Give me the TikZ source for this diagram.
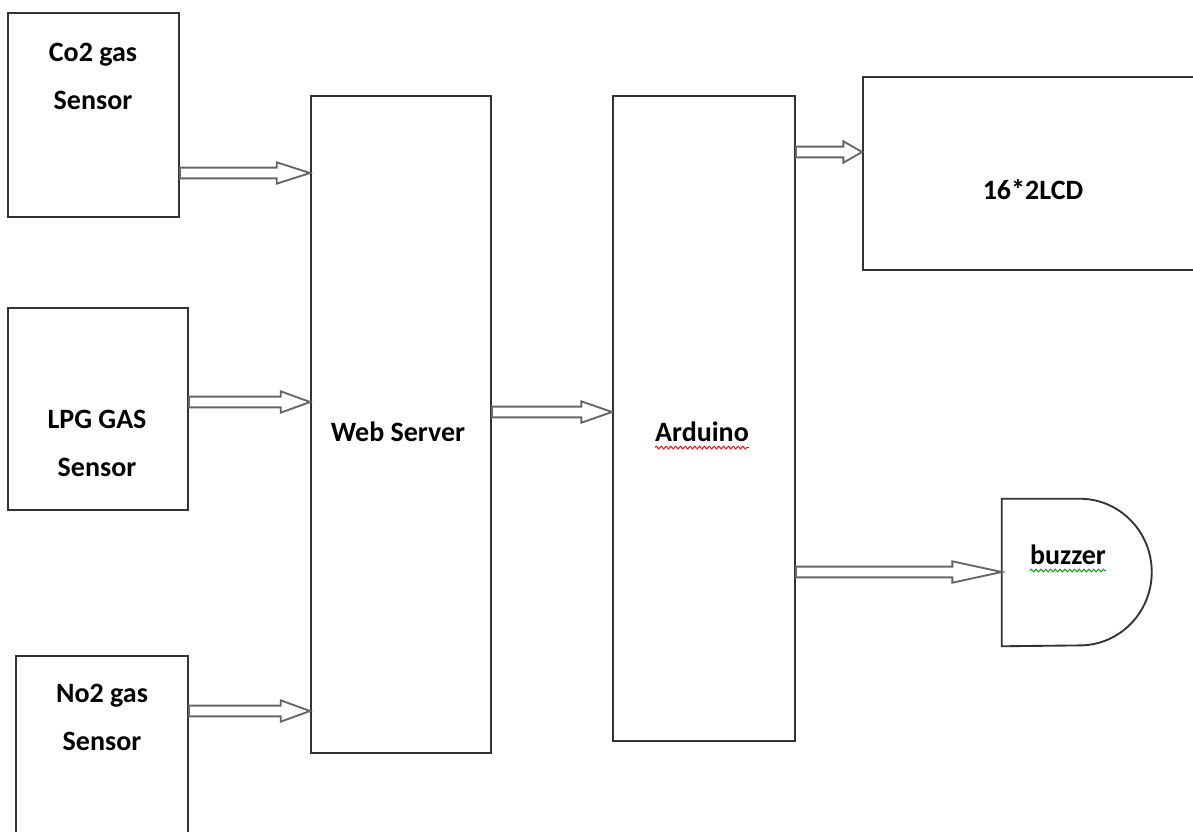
\documentclass[tikz,border=0pt]{standalone}
\usepackage{fontspec}
\setmainfont{Carlito}
\usetikzlibrary{calc,positioning,fit,decorations.pathmorphing}

\begin{document}
\begin{tikzpicture}[x=0.75pt,y=-0.75pt,
  box/.style={draw=black!80,line width=1.4pt,inner sep=0pt},
  lbl/.style={font=\bfseries\fontsize{21}{36}\selectfont,align=center,inner sep=0pt},
  squiggle/.style={#1,line width=0.7pt,decorate,decoration={snake,segment length=3.6pt,amplitude=1pt}},
  harrow/.style={draw=black!60,line width=1.4pt,fill=white,
    to path={let \p1=(\tikztostart), \p2=(\tikztotarget) in
      (\x1,\y1+4pt) -- (\x2-#1,\y1+4pt) -- (\x2-#1,\y1+8pt) -- (\x2,\y1)
      -- (\x2-#1,\y1-8pt) -- (\x2-#1,\y1-4pt) -- (\x1,\y1-4pt) -- cycle}},
  harrow/.default=23pt]
  \useasboundingbox (0,0) rectangle (1193,832);

  \node[box,fit={(8,13) (179,217)}] (co2) {};
  \node[box,fit={(8,308) (188,510)}] (lpg) {};
  \node[box,fit={(16,656) (188,850)}] (no2) {};
  \node[box,fit={(311,96) (491,753)}] (web) {};
  \node[box,fit={(613,96) (795,741)}] (ard) {};
  \node[box,fit={(863,77) (1205,270)}] (lcd) {};
  \node[inner sep=0pt,fit={(1002,499) (1152,646)}] (buzzer) {};
  \draw[box] (buzzer.north west) -- ++(78,0) arc[start angle=90,end angle=-90,x radius=54pt,y radius=55pt]
    -- (buzzer.south west) -- cycle;

  \node[lbl] (co2txt) at (93,76) {Co2 gas\\Sensor};
  \node[lbl] (lpgtxt) at (97,443) {LPG GAS\\Sensor};
  \node[lbl] (no2txt) at (102,717) {No2 gas\\Sensor};
  \node[lbl] (webtxt) at (398,432) {Web Server};
  \node[lbl] (ardtxt) at (702,432) {Arduino};
  \node[lbl] (lcdtxt) at (1033,190) {16*2LCD};
  \node[lbl] (buzztxt) at (1068,555) {buzzer};
  \draw[squiggle=red] ([yshift=-4pt]ardtxt.south west) -- ([yshift=-4pt]ardtxt.south east);
  \draw[squiggle=green!60!black] ([yshift=-4pt]buzztxt.south west) -- ([yshift=-4pt]buzztxt.south east);

  \draw[harrow=25pt] (co2.east |- 0,173) to (web.west |- 0,173);
  \draw[harrow=22pt] (lpg.east |- 0,402) to (web.west |- 0,402);
  \draw[harrow=22pt] (no2.east |- 0,711) to (web.west |- 0,711);
  \draw[harrow] (web.east |- 0,412) to (ard.west |- 0,412);
  \draw[harrow=14pt] (ard.east |- 0,152) to (lcd.west |- 0,152);
  \draw[harrow=37pt] (ard.east |- 0,572) to (buzzer.west |- 0,572);
\end{tikzpicture}
\end{document}
